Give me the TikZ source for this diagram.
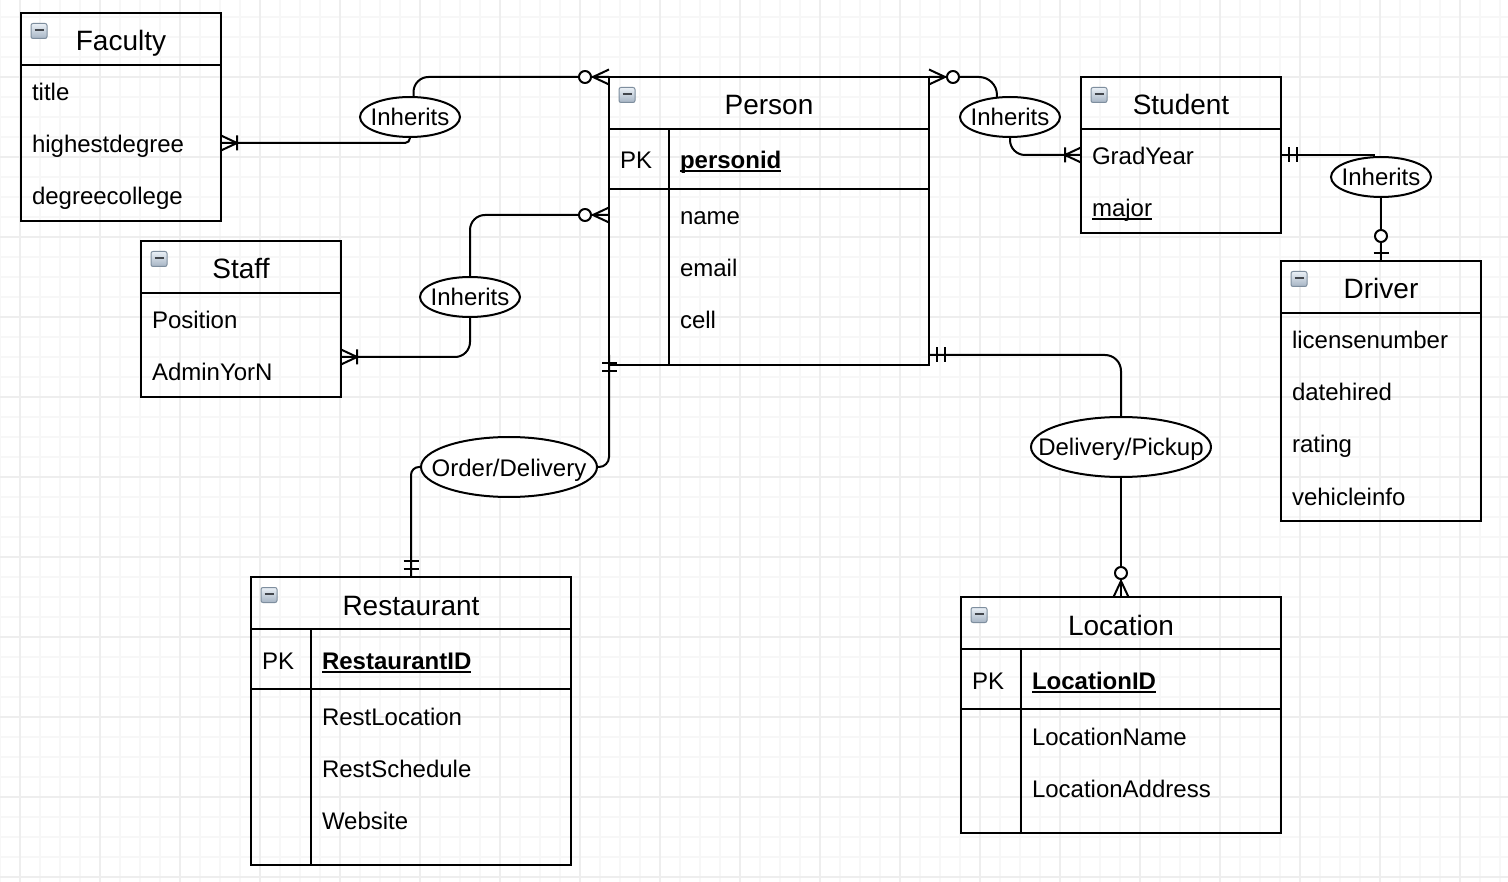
\documentclass[tikz,border=0pt]{standalone}
\usepackage{fontspec}
\setmainfont{Liberation Sans}
\usepackage{tikz}
\usetikzlibrary{positioning,calc,shapes.geometric}

\definecolor{icontop}{RGB}{234,240,246}
\definecolor{iconbot}{RGB}{166,180,196}
\definecolor{iconedge}{RGB}{126,142,158}
\definecolor{iconbar}{RGB}{66,70,76}

% underlined key attribute, rule close to the baseline
\newcommand{\ulkey}[1]{\setbox0\hbox{#1}\rlap{\rule[-3.5pt]{\wd0}{2pt}}\box0}

\begin{document}
\begin{tikzpicture}[
  x=1pt, y=-1pt,
  every node/.style={inner sep=0pt, outer sep=0pt},
  minor/.style={draw=gray!6, line width=2pt},
  major/.style={draw=gray!13, line width=2pt},
  ent/.style={draw, line width=2pt, anchor=north west},
  sep/.style={line width=2pt},
  hdr/.style={font=\fontsize{28}{32}\selectfont, text height=26pt, text depth=2pt},
  fld/.style={anchor=west, font=\fontsize{24}{28}\selectfont, text height=23pt, text depth=3pt},
  icon/.style={draw=iconedge, line width=1pt, rounded corners=2pt, top color=icontop, bottom color=iconbot,
    minimum width=16pt, minimum height=15pt,
    path picture={\draw[iconbar, line width=2.2pt]
      ([xshift=-4.5pt,yshift=1pt]path picture bounding box.center) --
      ([xshift=4.5pt,yshift=1pt]path picture bounding box.center);}},
  rel/.style={ellipse, draw, line width=2pt, fill=white, inner xsep=-30pt,
    font=\fontsize{24}{28}\selectfont, text height=19pt, text depth=1pt},
  conn/.style={line width=2pt},
  endln/.style={line width=2pt, line join=round},
  pics/onemany/.style={code={\draw[endln] (0,-7.5) -- (16,0) -- (0,7.5) (16,-7.5) -- (16,7.5);}},
  pics/zeromany/.style={code={\draw[endln] (0,-7.5) -- (16,0) -- (0,7.5);
      \draw[endln, fill=white] (24,0) circle[radius=6pt];}},
  pics/oneonly/.style={code={\draw[endln] (8,-7.5) -- (8,7.5) (16,-7.5) -- (16,7.5);}},
  pics/zeroone/.style={code={\draw[endln] (8,-7.5) -- (8,7.5);
      \draw[endln, fill=white] (25,0) circle[radius=6pt];}}
]
\useasboundingbox (0,0) rectangle (1508,882);

% --- grid ---
\fill[white] (0,0) rectangle (1508,882);
\foreach \x in {0,20,...,1500} \draw[minor] (\x,0) -- (\x,882);
\foreach \y in {17,37,...,877} \draw[minor] (0,\y) -- (1508,\y);
\foreach \x in {20,100,...,1460} \draw[major] (\x,0) -- (\x,882);
\foreach \y in {77,157,...,877} \draw[major] (0,\y) -- (1508,\y);

% --- Faculty ---
\node[ent, minimum width=200pt, minimum height=208pt] (faculty) at (21,13) {};
\draw[sep] (21,65) -- (221,65);
\node[icon] (facicon) at (39,31) {};
\node[hdr] (facname) at (121,39) {Faculty};
\foreach \fname [count=\i] in {title,highestdegree,degreecollege}
  \node[fld] (fac\i) at (32,{39+52*\i}) {\fname};

% --- Person ---
\node[ent, minimum width=320pt, minimum height=288pt] (person) at (609,77) {};
\draw[sep] (609,129) -- (929,129);
\draw[sep] (609,189) -- (929,189);
\draw[sep] (669,129) -- (669,365);
\node[icon] (pericon) at (627,95) {};
\node[hdr] (pername) at (769,103) {Person};
\node[fld] (perpk) at (620,159) {PK};
\node[fld] (perid) at (680,159) {\textbf{\ulkey{personid}}};
\foreach \fname [count=\i] in {name,email,cell}
  \node[fld] (per\i) at (680,{163+52*\i}) {\fname};

% --- Student ---
\node[ent, minimum width=200pt, minimum height=156pt] (student) at (1081,77) {};
\draw[sep] (1081,129) -- (1281,129);
\node[icon] (stuicon) at (1099,95) {};
\node[hdr] (stuname) at (1181,103) {Student};
\node[fld] (stu1) at (1092,155) {GradYear};
\node[fld] (stu2) at (1092,207) {\ulkey{major}};

% --- Staff ---
\node[ent, minimum width=200pt, minimum height=156pt] (staff) at (141,241) {};
\draw[sep] (141,293) -- (341,293);
\node[icon] (stficon) at (159,259) {};
\node[hdr] (stfname) at (241,267) {Staff};
\node[fld] (stf1) at (152,319) {Position};
\node[fld] (stf2) at (152,371) {AdminYorN};

% --- Driver ---
\node[ent, minimum width=200pt, minimum height=260pt] (driver) at (1281,261) {};
\draw[sep] (1281,313) -- (1481,313);
\node[icon] (drvicon) at (1299,279) {};
\node[hdr] (drvname) at (1381,287) {Driver};
\foreach \fname [count=\i] in {licensenumber,datehired,rating,vehicleinfo}
  \node[fld] (drv\i) at (1292,{287+52*\i}) {\fname};

% --- Restaurant ---
\node[ent, minimum width=320pt, minimum height=288pt] (restaurant) at (251,577) {};
\draw[sep] (251,629) -- (571,629);
\draw[sep] (251,689) -- (571,689);
\draw[sep] (311,629) -- (311,865);
\node[icon] (resicon) at (269,595) {};
\node[hdr] (resname) at (411,603) {Restaurant};
\node[fld] (respk) at (262,659) {PK};
\node[fld] (resid) at (322,659) {\textbf{\ulkey{RestaurantID}}};
\foreach \fname [count=\i] in {RestLocation,RestSchedule,Website}
  \node[fld] (res\i) at (322,{663+52*\i}) {\fname};

% --- Location ---
\node[ent, minimum width=320pt, minimum height=236pt] (location) at (961,597) {};
\draw[sep] (961,649) -- (1281,649);
\draw[sep] (961,709) -- (1281,709);
\draw[sep] (1021,649) -- (1021,833);
\node[icon] (locicon) at (979,615) {};
\node[hdr] (locname) at (1121,623) {Location};
\node[fld] (locpk) at (972,679) {PK};
\node[fld] (locid) at (1032,679) {\textbf{\ulkey{LocationID}}};
\foreach \fname [count=\i] in {LocationName,LocationAddress}
  \node[fld] (loc\i) at (1032,{683+52*\i}) {\fname};

% --- relationships ---
\node[rel, minimum width=100pt, minimum height=40pt] (inhfac)   at (410,117)  {Inherits};
\node[rel, minimum width=100pt, minimum height=40pt] (inhstaff) at (470,297)  {Inherits};
\node[rel, minimum width=100pt, minimum height=40pt] (inhstu)   at (1010,117) {Inherits};
\node[rel, minimum width=100pt, minimum height=40pt] (inhdrv)   at (1381,177) {Inherits};
\node[rel, minimum width=176pt, minimum height=60pt] (ordel)    at (509,467)  {Order/Delivery};
\node[rel, minimum width=180pt, minimum height=60pt] (delpick)  at (1121,447) {Delivery/Pickup};

\coordinate (staffin) at (341,357);
\coordinate (perloc)  at (929,355);
\coordinate (perord)  at (609,355);

% inheritance links
\draw[conn, rounded corners=15pt] (person.north west) -- (inhfac.80 |- person.north west) -- (inhfac.80);
\draw[conn, rounded corners=5pt]  (inhfac.south) -- (inhfac.south |- fac2) -- (faculty.east |- fac2);
\draw[conn, rounded corners=15pt] (person.west |- per1) -- (inhstaff.north |- per1) -- (inhstaff.north);
\draw[conn, rounded corners=15pt] (inhstaff.south) -- (inhstaff.south |- staffin) -- (staffin);
\draw[conn, rounded corners=18pt] (person.north east) -- (inhstu.124 |- person.north east) -- (inhstu.124);
\draw[conn, rounded corners=15pt] (inhstu.south) -- (inhstu.south |- stu1) -- (student.west |- stu1);
\draw[conn] (student.east |- stu1) -- (inhdrv.110 |- stu1) -- (inhdrv.110);
\draw[conn] (inhdrv.south) -- (driver.north);
% order / delivery links
\draw[conn, rounded corners=10pt] (perord) -- (perord |- ordel.east) -- (ordel.east);
\draw[conn, rounded corners=8pt]  (ordel.west) -- (ordel.west -| restaurant.north) -- (restaurant.north);
\draw[conn, rounded corners=16pt] (perloc) -- (perloc -| delpick.north) -- (delpick.north);
\draw[conn] (delpick.south) -- (location.north);

% cardinality ends
\pic at (faculty.east |- fac2) {onemany};
\pic[rotate=180] at (person.north west) {zeromany};
\pic[rotate=180] at (person.west |- per1) {zeromany};
\pic at (staffin) {onemany};
\pic at (person.north east) {zeromany};
\pic[rotate=180] at (student.west |- stu1) {onemany};
\pic at (student.east |- stu1) {oneonly};
\pic[rotate=90] at (driver.north) {zeroone};
\pic[rotate=-90] at (perord) {oneonly};
\pic at (perloc) {oneonly};
\pic[rotate=90] at (restaurant.north) {oneonly};
\pic[rotate=90] at (location.north) {zeromany};

\end{tikzpicture}
\end{document}
